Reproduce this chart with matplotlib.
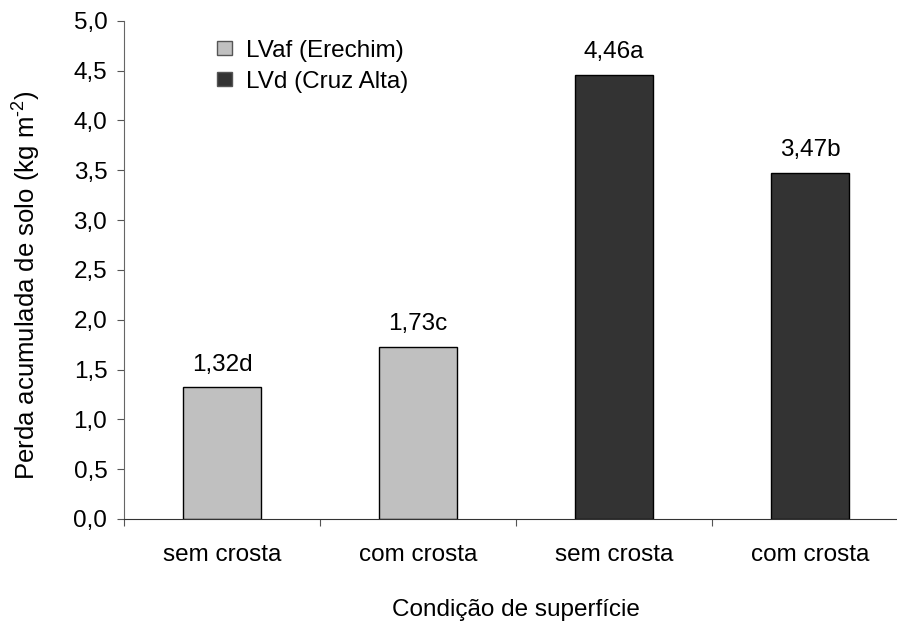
import numpy as np
import matplotlib.pyplot as plt
from matplotlib.patches import Patch
from matplotlib.ticker import FixedLocator, FuncFormatter

plt.rcParams['font.family'] = ['Liberation Sans', 'DejaVu Sans']
plt.rcParams['mathtext.fontset'] = 'custom'
plt.rcParams['mathtext.rm'] = 'Liberation Sans'

# data
categories = ["sem crosta", "com crosta", "sem crosta", "com crosta"]
values = [1.32, 1.73, 4.46, 3.47]
letters = ["d", "c", "a", "b"]
soils = ["LVaf (Erechim)", "LVaf (Erechim)", "LVd (Cruz Alta)", "LVd (Cruz Alta)"]
soil_colors = {"LVaf (Erechim)": "#c0c0c0", "LVd (Cruz Alta)": "#333333"}

fs = 17.5

fig = plt.figure(figsize=(8.97, 6.22), dpi=100)
ax = fig.add_axes([0.1382, 0.1656, 0.874, 0.8010])

x = np.arange(len(values))
bars = ax.bar(x, values, width=0.40, color=[soil_colors[s] for s in soils],
              edgecolor="black", linewidth=1.0)

# value labels above the bars
for xi, v, l in zip(x, values, letters):
    ax.annotate(f"{v:.2f}".replace(".", ",") + l, (xi, v), xytext=(0, 8.5),
                textcoords="offset points", ha="center", va="bottom", fontsize=fs)

ax.set_xlim(-0.5, len(values) - 0.5)
ax.set_ylim(0, 5)
ax.set_yticks(np.arange(0, 5.01, 0.5))
ax.yaxis.set_major_formatter(FuncFormatter(lambda v, p: f"{v:.1f}".replace(".", ",")))

# ticks between categories, labels at the centers
ax.xaxis.set_major_locator(FixedLocator(np.arange(-0.5, len(values), 1.0)))
ax.xaxis.set_minor_locator(FixedLocator(x))
ax.set_xticklabels([], minor=False)
ax.set_xticklabels(categories, minor=True)
ax.tick_params(axis="x", which="minor", length=0, pad=18, labelsize=fs)
ax.tick_params(axis="x", which="major", length=5, color="#555555", direction="out")
ax.tick_params(axis="y", length=5, color="#555555", direction="out", labelsize=fs, pad=7)

for s in ["top", "right"]:
    ax.spines[s].set_visible(False)
ax.spines["left"].set_color("#666666")
ax.spines["bottom"].set_color("#333333")

ax.set_ylabel("Perda acumulada de solo (kg m$^{\\text{-2}}$)", fontsize=18.5, labelpad=20)
ax.yaxis.set_label_coords(-0.105, 0.47)
ax.set_xlabel("Condição de superfície", fontsize=fs, labelpad=24)

handles = [Patch(facecolor=soil_colors[s], edgecolor="#555555") for s in soil_colors]
ax.legend(handles, list(soil_colors), loc="upper left", bbox_to_anchor=(0.1186, 0.962),
          frameon=False, fontsize=fs, handlelength=0.6, handleheight=0.5,
          handletextpad=0.6, labelspacing=0.37, borderpad=0, borderaxespad=0)

fig.savefig("out.png", dpi=100)
